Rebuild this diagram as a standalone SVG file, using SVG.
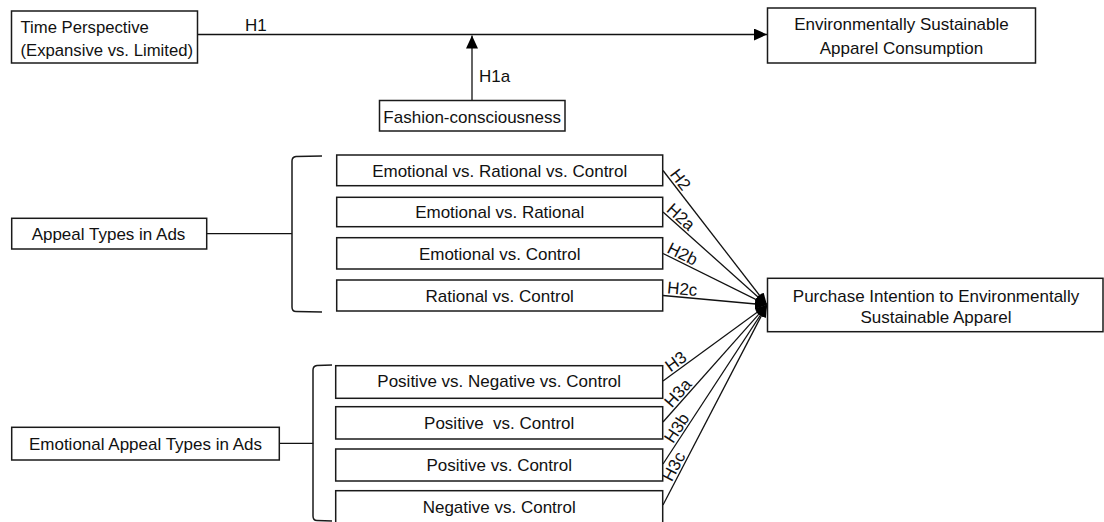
<svg xmlns="http://www.w3.org/2000/svg" width="1104" height="522" viewBox="0 0 1104 522">
<style>
.box{fill:#fff;stroke:#1a1a1a;stroke-width:1.5}
.t{font-family:"Liberation Sans",Arial,sans-serif;font-size:17px;fill:#111}
.c{text-anchor:middle}
.ln{fill:none;stroke:#111;stroke-width:1.3}
.br{fill:none;stroke:#1a1a1a;stroke-width:1.5}
</style>
<defs>
<marker id="big" viewBox="0 0 13 12" refX="13" refY="6" markerWidth="13" markerHeight="12" markerUnits="userSpaceOnUse" orient="auto"><path d="M0,0 L13,6 L0,12 Z" fill="#000"/></marker>
<marker id="sm" viewBox="0 0 12 10" refX="12" refY="5" markerWidth="12" markerHeight="10" markerUnits="userSpaceOnUse" orient="auto"><path d="M0,0 L12,5 L0,10 Z" fill="#000"/></marker>
</defs>
<rect width="1104" height="522" fill="#fff"/>

<g id="connectors">
<line class="ln" x1="197.5" y1="34.5" x2="767" y2="34.5" marker-end="url(#big)"/>
<text class="t" x="245" y="30.5">H1</text>
<line class="ln" x1="472" y1="100.5" x2="472" y2="35.5" marker-end="url(#big)"/>
<text class="t" x="479" y="82">H1a</text>
<line class="ln" x1="207" y1="233.7" x2="292" y2="233.7"/>
<line class="ln" x1="279.3" y1="443.3" x2="313.3" y2="443.3"/>
<path class="br" d="M322,156 L296,156.5 Q292,157 292,161 L292,307 Q292,311.5 296,311.5 L322,312"/>
<path class="br" d="M332,365 L317,365.5 Q313,366 313,370 L313,516 Q313,520.5 317,520.5 L332,521"/>
<line class="ln" x1="663" y1="170.5" x2="767" y2="305" marker-end="url(#sm)"/>
<line class="ln" x1="663" y1="212" x2="767" y2="305" marker-end="url(#sm)"/>
<line class="ln" x1="663" y1="253.5" x2="767" y2="305" marker-end="url(#sm)"/>
<line class="ln" x1="663" y1="295.5" x2="767" y2="305" marker-end="url(#sm)"/>
<line class="ln" x1="663" y1="381" x2="767" y2="305" marker-end="url(#sm)"/>
<line class="ln" x1="663" y1="422" x2="767" y2="305" marker-end="url(#sm)"/>
<line class="ln" x1="663" y1="464" x2="767" y2="305" marker-end="url(#sm)"/>
<line class="ln" x1="663" y1="505" x2="767" y2="305" marker-end="url(#sm)"/>
<text class="t" transform="translate(663,170.5) rotate(52.3)" x="7" y="-2.5">H2</text>
<text class="t" transform="translate(663,212) rotate(41.8)" x="1" y="-2.5">H2a</text>
<text class="t" transform="translate(663,253.5) rotate(26.3)" x="2" y="-2.5">H2b</text>
<text class="t" transform="translate(663,295.5) rotate(5.2)" x="3.5" y="-2.5">H2c</text>
<text class="t" transform="translate(663,381) rotate(-36.2)" x="11" y="-2.5">H3</text>
<text class="t" transform="translate(663,422) rotate(-48.4)" x="16" y="-2.5">H3a</text>
<text class="t" transform="translate(663,464) rotate(-56.8)" x="22" y="-2.5">H3b</text>
<text class="t" transform="translate(663,505) rotate(-62.5)" x="24" y="-2.5">H3c</text>
</g>

<g id="time-perspective">
<rect class="box" x="11.5" y="11" width="186" height="52"/>
<text class="t" x="20.5" y="32.5" style="font-size:16.7px">Time Perspective</text>
<text class="t" x="20.5" y="55.5" style="font-size:16.7px">(Expansive vs. Limited)</text>
</g>
<g id="esac">
<rect class="box" x="767.5" y="8" width="268" height="55"/>
<text class="t c" x="901.5" y="30">Environmentally Sustainable</text>
<text class="t c" x="901.5" y="54">Apparel Consumption</text>
</g>
<g id="fashion">
<rect class="box" x="379.5" y="100.5" width="185.5" height="30.5"/>
<text class="t c" x="472.2" y="123.3">Fashion-consciousness</text>
</g>
<g id="appeal-types">
<rect class="box" x="11.7" y="218.3" width="195" height="30.7"/>
<text class="t c" x="108.5" y="240">Appeal Types in Ads</text>
</g>
<g id="erc">
<rect class="box" x="336.7" y="155" width="326" height="30.7"/>
<text class="t c" x="499.7" y="176.7">Emotional vs. Rational vs. Control</text>
</g>
<g id="er">
<rect class="box" x="336.7" y="197.3" width="326" height="29.4"/>
<text class="t c" x="499.7" y="218.3">Emotional vs. Rational</text>
</g>
<g id="ec">
<rect class="box" x="336.7" y="237.7" width="326" height="31.3"/>
<text class="t c" x="499.7" y="260">Emotional vs. Control</text>
</g>
<g id="rc">
<rect class="box" x="336.7" y="280" width="326" height="31"/>
<text class="t c" x="499.7" y="301.7">Rational vs. Control</text>
</g>
<g id="purchase-intention">
<rect class="box" x="767.5" y="278.3" width="335.5" height="53.4"/>
<text class="t c" x="936" y="301.7">Purchase Intention to Environmentally</text>
<text class="t c" x="936" y="323.3">Sustainable Apparel</text>
</g>
<g id="emotional-appeal-types">
<rect class="box" x="11.7" y="427.3" width="267.6" height="32.7"/>
<text class="t c" x="145.5" y="450">Emotional Appeal Types in Ads</text>
</g>
<g id="pnc">
<rect class="box" x="335.7" y="365.7" width="327" height="32.6"/>
<text class="t c" x="499.2" y="387.3">Positive vs. Negative vs. Control</text>
</g>
<g id="pc1">
<rect class="box" x="335.7" y="406.7" width="327" height="32.3"/>
<text class="t c" x="499.2" y="429" style="white-space:pre">Positive  vs. Control</text>
</g>
<g id="pc2">
<rect class="box" x="335.7" y="449" width="327" height="32"/>
<text class="t c" x="499.2" y="470.7">Positive vs. Control</text>
</g>
<g id="nc">
<rect class="box" x="335.7" y="490.7" width="327" height="34"/>
<text class="t c" x="499.2" y="513.3">Negative vs. Control</text>
</g>
</svg>
